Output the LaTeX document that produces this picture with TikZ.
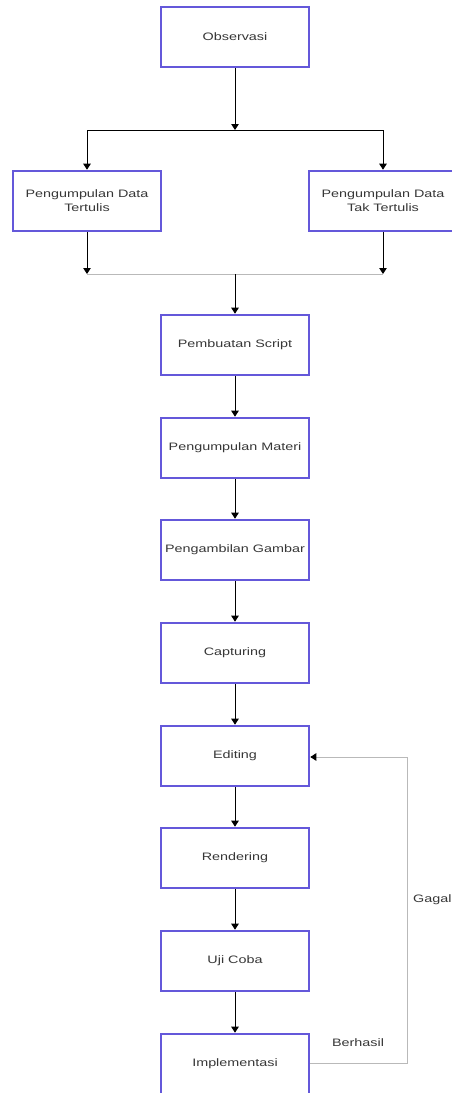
\documentclass[tikz,border=0pt]{standalone}
\usepackage{fontspec}
\setmainfont{Liberation Sans}
\newfontfamily\flowfont[FakeStretch=1.33]{Liberation Sans}
\usetikzlibrary{arrows.meta}
\definecolor{boxblue}{RGB}{100,88,218}
\definecolor{textgray}{RGB}{55,55,55}

\begin{document}
\begin{tikzpicture}[x=1pt, y=-1pt,
  box/.style={draw=boxblue, line width=2.6pt, fill=white, minimum width=148pt,
    minimum height=60pt, inner sep=0pt, align=center, text=textgray,
    font=\flowfont\fontsize{10.8}{14}\selectfont},
  flow/.style={-{Triangle[width=7.5pt,length=6pt]}, line width=1pt},
  back/.style={draw=gray!55, line width=1pt}]
  \useasboundingbox[fill=white] (0,0) rectangle (452,1093);
  % Top part: observation and data collection
  \node[box] (obs) at (235,37) {Observasi};
  \node[box] (tulis) at (87,201) {Pengumpulan Data\\Tertulis};
  \node[box] (taktulis) at (383,201) {Pengumpulan Data\\Tak Tertulis};
  \coordinate (split) at (235,130);
  \coordinate (splitL) at (87,130);
  \coordinate (splitR) at (383,130);
  \coordinate (merge) at (235,274);
  \coordinate (mergeL) at (87,274);
  \coordinate (mergeR) at (383,274);
  % Main column
  \foreach \name/\txt/\y in {script/Pembuatan Script/345, materi/Pengumpulan Materi/448,
      gambar/Pengambilan Gambar/550, capture/Capturing/653, edit/Editing/756,
      render/Rendering/858, uji/Uji Coba/961, impl/Implementasi/1064}
    \node[box] (\name) at (235,\y) {\txt};
  % Connectors
  \draw[flow] (obs) -- (split);
  \draw[line width=1pt] (splitL) -- (splitR);
  \draw[flow] (splitL) -- (tulis);
  \draw[flow] (splitR) -- (taktulis);
  \draw[flow] (tulis) -- (mergeL);
  \draw[flow] (taktulis) -- (mergeR);
  \draw[back] (mergeL) -- (mergeR);
  \draw[flow] (merge) -- (script);
  \foreach \a/\b in {script/materi, materi/gambar, gambar/capture, capture/edit,
      edit/render, render/uji, uji/impl}
    \draw[flow] (\a) -- (\b);
  % Feedback loop
  \coordinate (fbA) at (407,1063);
  \coordinate (fbB) at (407,757);
  \draw[back, -{Triangle[width=7.5pt,length=6pt,color=black]}] (impl.east |- fbA) -- (fbA) -- (fbB) -- (edit.east |- fbB);
  \node[text=textgray, font=\flowfont\fontsize{10.8}{14}\selectfont] (ok) at (358,1043) {Berhasil};
  \node[text=textgray, font=\flowfont\fontsize{10.8}{14}\selectfont, anchor=west, inner sep=0pt] (fail) at (413,900) {Gagal};
\end{tikzpicture}
\end{document}
